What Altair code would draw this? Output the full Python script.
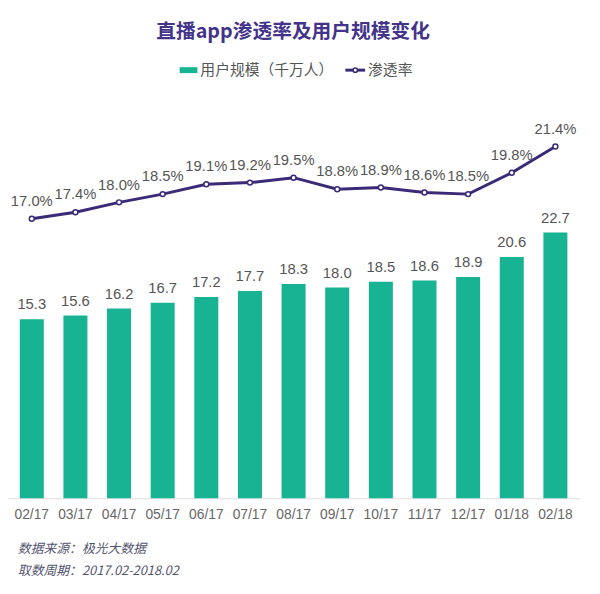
import altair as alt
import pandas as pd

months = ["02/17", "03/17", "04/17", "05/17", "06/17", "07/17", "08/17",
          "09/17", "10/17", "11/17", "12/17", "01/18", "02/18"]
users = [15.3, 15.6, 16.2, 16.7, 17.2, 17.7, 18.3, 18.0, 18.5, 18.6, 18.9, 20.6, 22.7]
penetration = [17.0, 17.4, 18.0, 18.5, 19.1, 19.2, 19.5, 18.8, 18.9, 18.6, 18.5, 19.8, 21.4]

title_text = "直播app渗透率及用户规模变化"
legend_bar = "用户规模（千万人）"
legend_line = "渗透率"
footer1 = "数据来源：极光大数据"
footer2 = "取数周期：2017.02-2018.02"

TEAL = "#17b392"
PURPLE = "#3a2a78"
FONT = "Noto Sans CJK SC"
NUMFONT = "Liberation Sans"

df = pd.DataFrame({"month": months, "users": users, "pen": penetration})
df["pen_label"] = [f"{v:.1f}%" for v in penetration]
df["user_label"] = [f"{v:.1f}" for v in users]

xenc = alt.X("month:N", sort=months, title=None,
             scale=alt.Scale(paddingInner=0.45, paddingOuter=0.27),
             axis=alt.Axis(labelAngle=0, labelFontSize=14, labelColor="#666666",
                           labelFont=NUMFONT, domainColor="#dddddd", ticks=False,
                           labelPadding=9))

base = alt.Chart(df)
ybar = alt.Y("users:Q", scale=alt.Scale(domain=[0, 33.7]), axis=None)
yline = alt.Y("pen:Q", scale=alt.Scale(domain=[0, 24]), axis=None)

bars = base.mark_bar(color=TEAL).encode(x=xenc, y=ybar)
bar_text = base.mark_text(dy=-7, baseline="bottom", fontSize=15, color="#555555",
                          font=NUMFONT).encode(x=xenc, y=ybar, text="user_label:N")
line = base.mark_line(color=PURPLE, strokeWidth=3).encode(x=xenc, y=yline)
pts = base.mark_point(filled=True, fill="white", stroke=PURPLE, strokeWidth=1.5,
                      size=25, opacity=1).encode(x=xenc, y=yline)
line_text = base.mark_text(dy=-10, baseline="bottom", fontSize=15, color="#555555",
                           font=NUMFONT).encode(x=xenc, y=yline, text="pen_label:N")

one = pd.DataFrame({"a": [0]})
def txt(s, x, y, **kw):
    return alt.Chart(pd.DataFrame({"t": [s]})).mark_text(**kw).encode(
        x=alt.value(x), y=alt.value(y), text="t:N")

title = txt(title_text, 289, -73, font=FONT, fontSize=20, fontWeight="bold",
            color="#43338a", align="center", baseline="middle")
leg_rect = alt.Chart(one).mark_rect(color=TEAL).encode(
    x=alt.value(174), x2=alt.value(192), y=alt.value(-37), y2=alt.value(-31))
leg_t1 = txt(legend_bar, 195, -34, font=FONT, fontSize=15, color="#555555",
             align="left", baseline="middle")
leg_rule = alt.Chart(one).mark_rule(color=PURPLE, strokeWidth=3).encode(
    x=alt.value(342), x2=alt.value(362), y=alt.value(-34))
leg_pt = alt.Chart(one).mark_point(filled=True, fill="white", stroke=PURPLE,
                                   strokeWidth=1.5, size=20, opacity=1).encode(
    x=alt.value(352), y=alt.value(-34))
leg_t2 = txt(legend_line, 365, -34, font=FONT, fontSize=15, color="#555555",
             align="left", baseline="middle")
f1 = txt(footer1, 10, 451, font=FONT, fontSize=13, fontStyle="italic",
         color="#55546f", align="left", baseline="middle")
f2 = txt(footer2, 10, 474, font=FONT, fontSize=13, fontStyle="italic",
         color="#55546f", align="left", baseline="middle")

chart = alt.layer(bars, bar_text, line, pts, line_text, title, leg_rect, leg_t1,
                  leg_rule, leg_pt, leg_t2, f1, f2).resolve_scale(
    y="independent").properties(
    width=579, height=400, background="white",
    autosize=alt.AutoSizeParams(type="none"),
    padding={"top": 93, "left": 0, "right": 13, "bottom": 90},
).configure_view(strokeWidth=0, stroke="transparent")

chart.save("out.html", embed_options={"renderer": "svg", "actions": False})
